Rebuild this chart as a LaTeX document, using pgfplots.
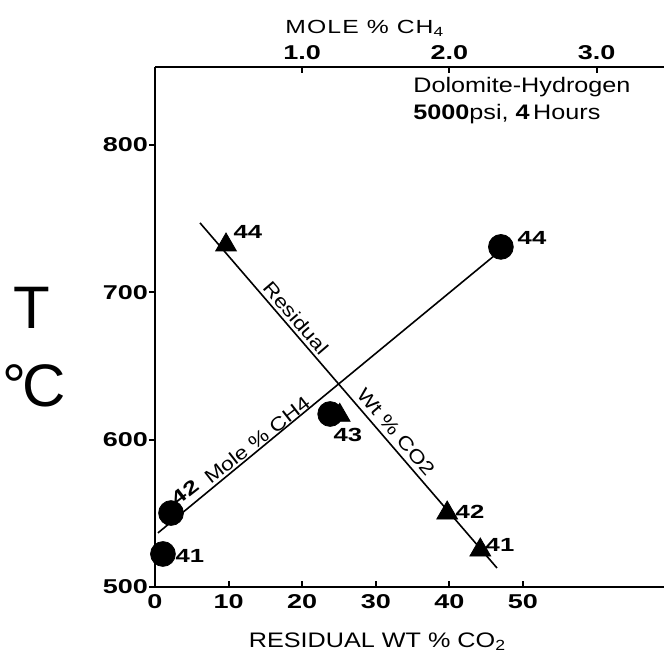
\documentclass[border=0pt]{standalone}
\usepackage{fontspec}
\setmainfont{Liberation Sans}
\newfontfamily\extfont[FakeStretch=1.35]{Liberation Sans}
\newfontfamily\midfont[FakeStretch=1.2]{Liberation Sans}
\newfontfamily\topfont[FakeStretch=1.3,LetterSpace=6]{Liberation Sans}
\usepackage{pgfplots}
\pgfplotsset{compat=1.18}
\begin{document}
\begin{tikzpicture}
\begin{axis}[
  at={(77.5pt,35.5pt)}, anchor=south west,
  scale only axis, width=254.5pt, height=260pt,
  xmin=0, xmax=69.16, ymin=500, ymax=852.9,
  axis x line*=bottom, axis y line*=left,
  axis line style={-, line width=1.1pt, black},
  tick align=inside, major tick length=3pt,
  xtick={0,10,20,30,40,50}, ytick={500,600,700,800},
  xtick style={black, line width=1pt},
  ytick style={black, line width=1pt, xshift=-3pt},
  /pgf/number format/assume math mode=true,
  ticklabel style={font=\extfont\bfseries\fontsize{10}{10}\selectfont},
  clip=false,
]
\addplot[black, line width=0.8pt] coordinates {(6.11,747.1) (46.47,512.9)};
\addplot[only marks, mark=triangle*, mark size=6pt, black] coordinates {(9.65,732.1) (25.1,616.5) (39.7,550.2) (44.2,525.1)};
\end{axis}
\begin{axis}[
  at={(77.5pt,35.5pt)}, anchor=south west,
  scale only axis, width=254.5pt, height=260pt,
  xmin=0, xmax=3.458, ymin=500, ymax=852.9,
  axis x line*=top, axis y line=none, ytick=\empty,
  axis line style={-, line width=1.1pt, black},
  tick align=inside, major tick length=3pt,
  xtick={1,2,3}, xticklabels={1.0,2.0,3.0},
  xtick style={black, line width=1pt},
  ticklabel style={font=\extfont\bfseries\fontsize{10}{10}\selectfont},
  clip=false,
]
\addplot[black, line width=0.8pt] coordinates {(0.020,536.7) (2.41,733.5)};
\addplot[only marks, mark=*, mark size=6.2pt, black] coordinates {(2.35,730.8) (1.19,617.4) (0.109,550.2) (0.054,522.4)};
\end{axis}
\begin{scope}[x=0.5pt, y=-0.5pt, yshift=329pt]
  \node[font=\topfont\fontsize{9.5}{10}\selectfont, anchor=west, inner sep=0pt] at (285,28) {MOLE\ \%\ CH\textsubscript{4}};
  \node[font=\midfont\fontsize{10.5}{11}\selectfont, inner sep=0pt] at (377.5,642) {RESIDUAL WT \% CO\textsubscript{2}};
  \node[font=\midfont\fontsize{10.5}{11}\selectfont, anchor=west, inner sep=0pt] at (413,87) {Dolomite-Hydrogen};
  \node[font=\midfont\fontsize{10.5}{11}\selectfont, anchor=west, inner sep=0pt] at (413,114) {\textbf{5000}psi, \textbf{4}\,Hours};
  \node[font=\fontsize{30}{30}\selectfont, inner sep=0pt] at (32,308) {T};
  \node[font=\fontsize{30}{30}\selectfont, inner sep=0pt] at (34,386) {°\kern-2pt C};
  \node[font=\midfont\fontsize{9.5}{10}\selectfont, rotate=-49.3, inner sep=0pt] at (296,318) {Residual};
  \node[font=\midfont\fontsize{9.5}{10}\selectfont, rotate=-49.3, inner sep=0pt] at (396,432) {Wt \% CO2};
  \node[font=\midfont\fontsize{9.5}{10}\selectfont, rotate=38, inner sep=0pt] at (257,440) {Mole \% CH4};
  \node[font=\extfont\bfseries\fontsize{9.5}{10}\selectfont, rotate=38, inner sep=0pt] at (185,492) {42};
  \node[font=\extfont\bfseries\fontsize{9.5}{10}\selectfont, inner sep=0pt] at (248,232) {44};
  \node[font=\extfont\bfseries\fontsize{9.5}{10}\selectfont, inner sep=0pt] at (348,435) {43};
  \node[font=\extfont\bfseries\fontsize{9.5}{10}\selectfont, inner sep=0pt] at (470,512) {42};
  \node[font=\extfont\bfseries\fontsize{9.5}{10}\selectfont, inner sep=0pt] at (500,545) {41};
  \node[font=\extfont\bfseries\fontsize{9.5}{10}\selectfont, inner sep=0pt] at (532,238) {44};
  \node[font=\extfont\bfseries\fontsize{9.5}{10}\selectfont, inner sep=0pt] at (190,556) {41};
\end{scope}
\pgfresetboundingbox
\path[use as bounding box] (0,0) rectangle (332pt,329pt);
\end{tikzpicture}
\end{document}
